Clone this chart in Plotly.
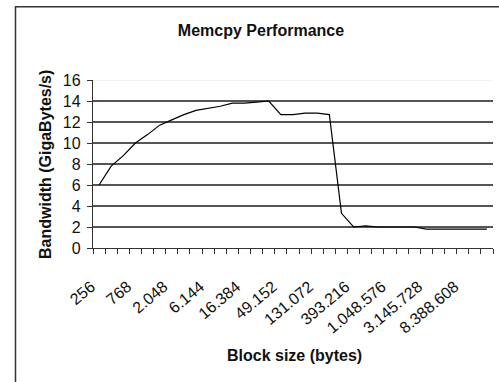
import plotly.graph_objects as go

# Block sizes tested (bytes) and measured copy bandwidth (GB/s)
block_sizes = [256, 384, 512, 768, 1024, 1536, 2048, 3072, 4096, 6144, 8192,
               12288, 16384, 24576, 32768, 49152, 65536, 98304, 131072,
               196608, 262144, 393216, 524288, 786432, 1048576, 1572864,
               2097152, 3145728, 4194304, 6291456, 8388608, 12582912, 16777216]
bandwidth = [6.0, 7.8, 8.8, 10.0, 10.8, 11.7, 12.2, 12.7, 13.1, 13.3, 13.5,
             13.8, 13.8, 13.9, 14.0, 12.7, 12.7, 12.85, 12.85, 12.7, 3.3,
             2.0, 2.1, 2.0, 2.0, 2.0, 2.0, 1.8, 1.8, 1.8, 1.8, 1.8, 1.8]
label_every = 3
y_ticks = [0, 2, 4, 6, 8, 10, 12, 14, 16]

positions = list(range(len(block_sizes)))
tick_pos = positions[::label_every]
tick_text = [f"{block_sizes[i]:,}".replace(",", ".") for i in tick_pos]

FONT = "Arial, Liberation Sans, sans-serif"
W, H = 499, 382
L, R, T, B = 93, 6, 80, 134
pw, ph = W - L - R, H - T - B

fig = go.Figure(go.Scatter(
    x=positions, y=bandwidth, mode="lines",
    line=dict(color="#000000", width=1.2),
    hoverinfo="skip", showlegend=False,
))


def px_to_paper(xp, yp):
    return (xp - L) / pw, (H - B - yp) / ph


fx0, fy0 = px_to_paper(15.5, 6.7)
fx1, fy1 = px_to_paper(520, 400)

fig.update_layout(
    width=W, height=H,
    margin=dict(l=L, r=R, t=T, b=B, pad=0),
    paper_bgcolor="white", plot_bgcolor="white",
    font=dict(family=FONT, color="#111111", size=16),
    title=dict(text="<b>Memcpy Performance</b>", xref="container", yref="container",
               x=261 / W, y=1 - 30 / H, xanchor="center", yanchor="middle",
               font=dict(size=16, color="#111111")),
    xaxis=dict(
        type="linear", range=[-0.5, len(block_sizes) - 0.5],
        tickmode="array", tickvals=tick_pos, ticktext=tick_text,
        tickangle=-40, ticks="", showgrid=False, zeroline=False,
        showline=True, linecolor="#333333", linewidth=1.3,
        ticklabelstandoff=22, ticklabelshift=-8,
        tickfont=dict(size=16),
        minor=dict(tickmode="linear", tick0=-0.5, dtick=1, ticks="outside",
                   ticklen=5, tickcolor="#333333", tickwidth=1.2, showgrid=False),
    ),
    yaxis=dict(
        range=[0, 16], tickmode="array", tickvals=y_ticks,
        ticks="outside", ticklen=5, tickcolor="#333333", tickwidth=1.2,
        showline=True, linecolor="#333333", linewidth=1.3,
        showgrid=True, gridcolor="#555555", gridwidth=1.5, zeroline=False,
        ticklabelstandoff=3,
        tickfont=dict(size=16),
    ),
    shapes=[
        dict(type="line", xref="paper", yref="y", x0=0, x1=1, y0=16, y1=16,
             line=dict(color="#ececec", width=1.5), layer="above"),
        dict(type="rect", xref="paper", yref="paper", x0=fx0, y0=fy0, x1=fx1, y1=fy1,
             line=dict(color="#333333", width=1.5), fillcolor="rgba(0,0,0,0)"),
    ],
    annotations=[
        dict(text="<b>Block size (bytes)</b>", xref="paper", yref="paper",
             x=px_to_paper(294, 355)[0], y=px_to_paper(294, 355)[1],
             xanchor="center", yanchor="middle", showarrow=False,
             font=dict(size=16, color="#111111")),
        dict(text="<b>Bandwidth (GigaBytes/s)</b>", xref="paper", yref="paper",
             x=px_to_paper(45, 165)[0], y=px_to_paper(45, 165)[1],
             xanchor="center", yanchor="middle", showarrow=False, textangle=-90,
             font=dict(size=16, color="#111111")),
    ],
)

fig.write_html("out.html")
